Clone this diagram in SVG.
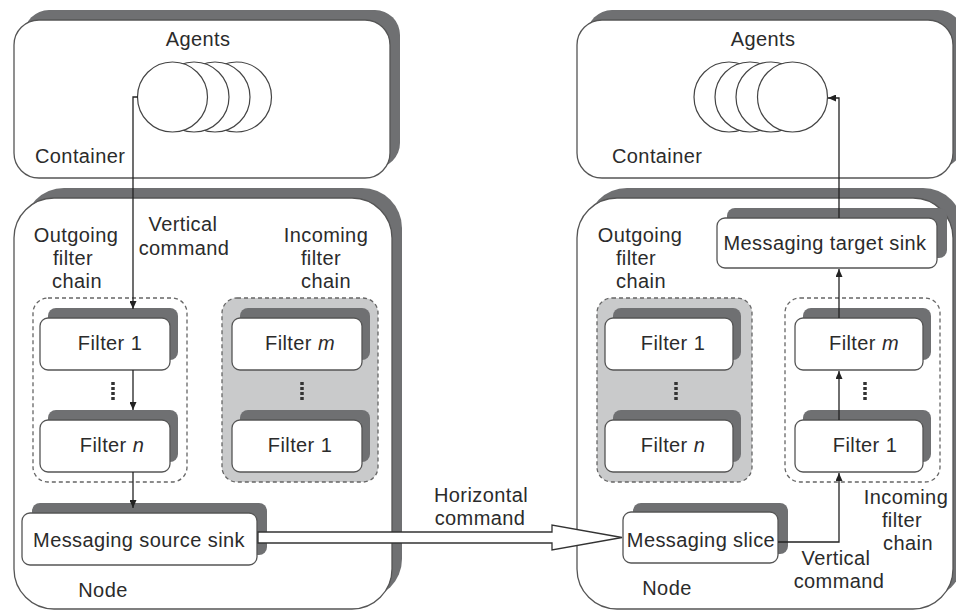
<svg xmlns="http://www.w3.org/2000/svg" width="956" height="613" viewBox="0 0 956 613">
  <defs>
    <marker id="arrow" markerWidth="8" markerHeight="7" refX="8" refY="3.5" orient="auto" markerUnits="userSpaceOnUse">
      <path d="M0,0 L8,3.5 L0,7 z" fill="#222"/>
    </marker>
  </defs>
  <style>
    .shadow { fill: #6f7072; stroke: none; }
    .front { fill: #ffffff; stroke: #555; stroke-width: 1.3; }
    .group { fill: #ffffff; stroke: #666; stroke-width: 1.3; stroke-dasharray: 4 3; }
    .group.grey { fill: #c9cacb; }
    .agent { fill: #ffffff; stroke: #444; stroke-width: 1.2; }
    .dots { stroke: #333; stroke-width: 3.5; stroke-dasharray: 3 2; }
    .lbl { font-family: "Liberation Sans", Arial, sans-serif; font-size: 20px; fill: #2b2b2b; letter-spacing: 0.4px; }
    .mid { text-anchor: middle; }
    .conn { fill: none; stroke: #222; stroke-width: 1.3; }
    .hollow { fill: #ffffff; stroke: #333; stroke-width: 1.3; stroke-linejoin: miter; }
  </style>

  <rect width="956" height="613" fill="#ffffff"/>

  <!-- ===== Left side: sending container and node ===== -->
  <g id="left-container">
    <rect class="shadow" x="24" y="10" width="376" height="158" rx="25"/>
    <rect class="front" x="14" y="20" width="376" height="158" rx="25"/>
    <text class="lbl mid" x="198" y="46">Agents</text>
    <text class="lbl" x="35" y="163">Container</text>
  </g>

  <g id="left-agents">
    <circle class="agent" cx="236.5" cy="97" r="35"/>
    <circle class="agent" cx="215" cy="97" r="35"/>
    <circle class="agent" cx="194" cy="97" r="35"/>
    <circle class="agent" cx="172.5" cy="97" r="35"/>
  </g>

  <g id="left-node">
    <rect class="shadow" x="24" y="188" width="378" height="411" rx="40"/>
    <rect class="front" x="14" y="198" width="378" height="411" rx="40"/>
    <text class="lbl mid" x="76" y="242">Outgoing</text>
    <text class="lbl mid" x="73" y="265">filter</text>
    <text class="lbl mid" x="77" y="288">chain</text>
    <text class="lbl mid" x="183" y="231">Vertical</text>
    <text class="lbl mid" x="184" y="255">command</text>
    <text class="lbl mid" x="326" y="242">Incoming</text>
    <text class="lbl mid" x="321" y="265">filter</text>
    <text class="lbl mid" x="326" y="288">chain</text>
    <text class="lbl mid" x="103" y="597">Node</text>
  </g>

  <g id="left-outgoing-chain">
    <rect class="group" x="33" y="298" width="154" height="184" rx="15"/>
  </g>
  <g id="left-out-filter-1">
    <rect class="shadow" x="48" y="308" width="130" height="52" rx="8"/>
    <rect class="front" x="40" y="318" width="130" height="52" rx="8"/>
    <text class="lbl mid" x="110" y="350">Filter 1</text>
  </g>
  <line class="dots" x1="113" y1="382" x2="113" y2="401"/>
  <g id="left-out-filter-n">
    <rect class="shadow" x="48" y="410" width="130" height="52" rx="8"/>
    <rect class="front" x="40" y="420" width="130" height="52" rx="8"/>
    <text class="lbl mid" x="112" y="452">Filter <tspan font-style="italic">n</tspan></text>
  </g>

  <g id="left-incoming-chain">
    <rect class="group grey" x="222" y="298" width="156" height="184" rx="15"/>
  </g>
  <g id="left-in-filter-m">
    <rect class="shadow" x="240" y="308" width="130" height="52" rx="8"/>
    <rect class="front" x="232" y="318" width="130" height="52" rx="8"/>
    <text class="lbl mid" x="300" y="350">Filter <tspan font-style="italic">m</tspan></text>
  </g>
  <line class="dots" x1="302" y1="382" x2="302" y2="401"/>
  <g id="left-in-filter-1">
    <rect class="shadow" x="240" y="410" width="130" height="52" rx="8"/>
    <rect class="front" x="232" y="420" width="130" height="52" rx="8"/>
    <text class="lbl mid" x="300" y="452">Filter 1</text>
  </g>

  <g id="messaging-source-sink">
    <rect class="shadow" x="32" y="503" width="235" height="52" rx="8"/>
    <rect class="front" x="22" y="513" width="235" height="52" rx="8"/>
    <text class="lbl mid" x="139" y="547">Messaging source sink</text>
  </g>

  <!-- ===== Right side: receiving container and node ===== -->
  <g id="right-container">
    <rect class="shadow" x="587" y="10" width="376" height="158" rx="25"/>
    <rect class="front" x="577" y="20" width="376" height="158" rx="25"/>
    <text class="lbl mid" x="763" y="46">Agents</text>
    <text class="lbl" x="612" y="163">Container</text>
  </g>

  <g id="right-agents">
    <circle class="agent" cx="729" cy="97" r="35"/>
    <circle class="agent" cx="750" cy="97" r="35"/>
    <circle class="agent" cx="771" cy="97" r="35"/>
    <circle class="agent" cx="792.5" cy="97" r="35"/>
  </g>

  <g id="right-node">
    <rect class="shadow" x="587" y="188" width="376" height="411" rx="40"/>
    <rect class="front" x="577" y="198" width="376" height="411" rx="40"/>
    <text class="lbl mid" x="640" y="242">Outgoing</text>
    <text class="lbl mid" x="636" y="265">filter</text>
    <text class="lbl mid" x="641" y="288">chain</text>
    <text class="lbl mid" x="906" y="504">Incoming</text>
    <text class="lbl mid" x="902" y="527">filter</text>
    <text class="lbl mid" x="908" y="550">chain</text>
    <text class="lbl mid" x="836" y="565">Vertical</text>
    <text class="lbl mid" x="839" y="588">command</text>
    <text class="lbl mid" x="667" y="595">Node</text>
  </g>

  <g id="messaging-target-sink">
    <rect class="shadow" x="727" y="208" width="220" height="50" rx="8"/>
    <rect class="front" x="717" y="218" width="220" height="50" rx="8"/>
    <text class="lbl mid" x="825" y="250">Messaging target sink</text>
  </g>

  <g id="right-outgoing-chain">
    <rect class="group grey" x="597" y="298" width="155" height="184" rx="15"/>
  </g>
  <g id="right-out-filter-1">
    <rect class="shadow" x="613" y="308" width="128" height="52" rx="8"/>
    <rect class="front" x="605" y="318" width="128" height="52" rx="8"/>
    <text class="lbl mid" x="673" y="350">Filter 1</text>
  </g>
  <line class="dots" x1="676" y1="382" x2="676" y2="401"/>
  <g id="right-out-filter-n">
    <rect class="shadow" x="613" y="410" width="128" height="52" rx="8"/>
    <rect class="front" x="605" y="420" width="128" height="52" rx="8"/>
    <text class="lbl mid" x="673" y="452">Filter <tspan font-style="italic">n</tspan></text>
  </g>

  <g id="right-incoming-chain">
    <rect class="group" x="785" y="298" width="155" height="184" rx="15"/>
  </g>
  <g id="right-in-filter-m">
    <rect class="shadow" x="803" y="308" width="128" height="52" rx="8"/>
    <rect class="front" x="795" y="318" width="128" height="52" rx="8"/>
    <text class="lbl mid" x="864" y="350">Filter <tspan font-style="italic">m</tspan></text>
  </g>
  <line class="dots" x1="865" y1="382" x2="865" y2="401"/>
  <g id="right-in-filter-1">
    <rect class="shadow" x="803" y="410" width="128" height="52" rx="8"/>
    <rect class="front" x="795" y="420" width="128" height="52" rx="8"/>
    <text class="lbl mid" x="865" y="452">Filter 1</text>
  </g>

  <g id="messaging-slice">
    <rect class="shadow" x="633" y="503" width="155" height="51" rx="8"/>
    <rect class="front" x="623" y="512" width="155" height="51" rx="8"/>
    <text class="lbl mid" x="701" y="547">Messaging slice</text>
  </g>

  <text class="lbl mid" x="481" y="502">Horizontal</text>
  <text class="lbl mid" x="480" y="525">command</text>

  <!-- ===== Connectors ===== -->
  <g id="connectors">
    <!-- outgoing vertical command: agent down through the outgoing chain -->
    <path class="conn" d="M138,97 H133 V309" marker-end="url(#arrow)"/>
    <path class="conn" d="M133,370 V410" marker-end="url(#arrow)"/>
    <path class="conn" d="M133,472 V508" marker-end="url(#arrow)"/>
    <!-- horizontal command between nodes (hollow arrow) -->
    <polygon class="hollow" points="258,532 552,532 552,525 622,537.5 552,550 552,543 258,543"/>
    <!-- incoming vertical command: slice up through the incoming chain to the agent -->
    <path class="conn" d="M778,542 H839 V473" marker-end="url(#arrow)"/>
    <path class="conn" d="M839,420 V371" marker-end="url(#arrow)"/>
    <path class="conn" d="M839,318 V269" marker-end="url(#arrow)"/>
    <path class="conn" d="M839,218 V98 H828" marker-end="url(#arrow)"/>
  </g>
</svg>
